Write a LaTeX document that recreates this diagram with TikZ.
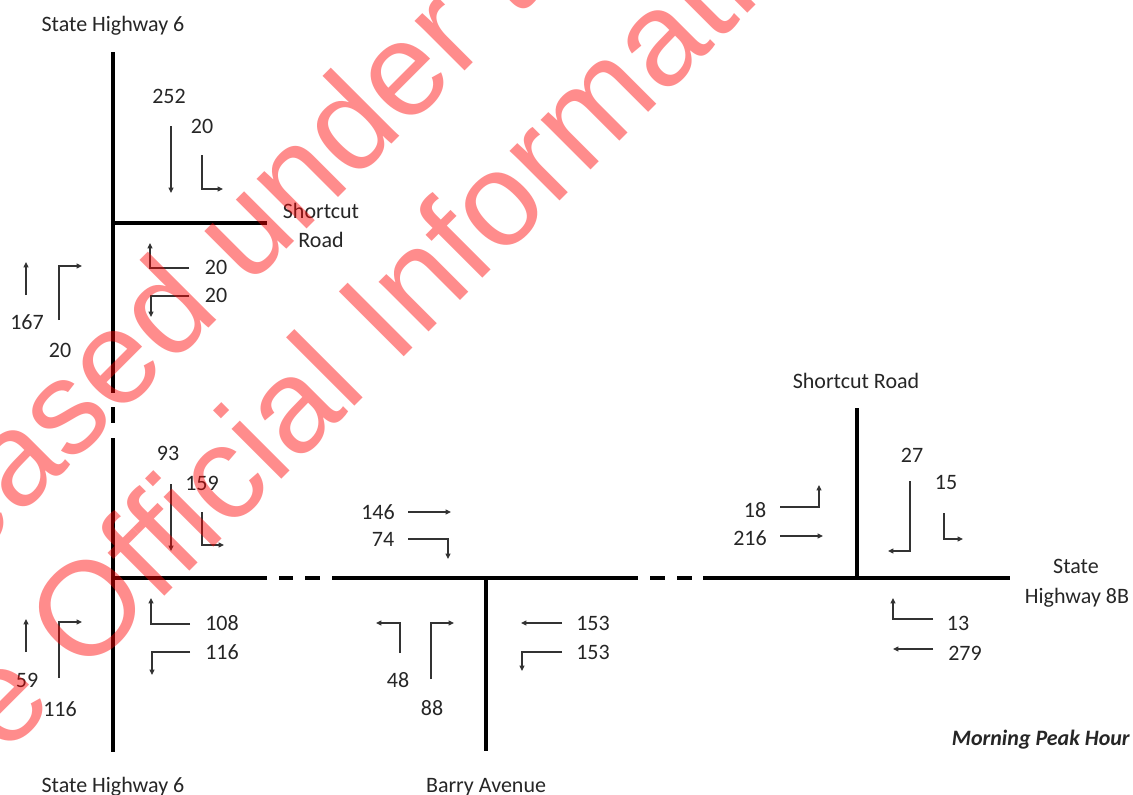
\documentclass[tikz,border=0pt]{standalone}
\usepackage{fontspec}
\setmainfont{Carlito}
\newfontfamily\wmfont{Liberation Sans}
\usetikzlibrary{arrows.meta}

\begin{document}
\begin{tikzpicture}[
  x=0.75pt, y=-0.75pt,
  road/.style={line width=2.4pt},
  mvt/.style={line width=0.8pt, draw=black!80, -{Triangle[length=4pt,width=3.6pt]}},
  vol/.style={font=\fontsize{16.5}{20}\selectfont, text=black!85, inner sep=0pt},
  rname/.style={font=\fontsize{16.5}{21}\selectfont, text=black!85, inner sep=0pt, anchor=base},
  wmark/.style={font=\wmfont\fontsize{100}{120}\selectfont, text=red, opacity=0.45,
    rotate=45, anchor=base west, inner sep=0pt}
]
\useasboundingbox (0,0) rectangle (1133,794);

% junctions and road ends
\coordinate (sh6n) at (113,52);
\coordinate (jtop) at (113,223);
\coordinate (jsw) at (113,578);
\coordinate (sh6s) at (113,752);
\coordinate (scw) at (267,223);
\coordinate (jbarry) at (486,578);
\coordinate (barrys) at (486,751);
\coordinate (jeast) at (857,578);
\coordinate (scn) at (857,408);
\coordinate (sh8e) at (1010,578);

% roads
\draw[road] (sh6n) -- (113,393) (113,407) -- (113,423) (113,438) -- (sh6s);
\draw[road] (jtop) -- (scw);
\draw[road] (jsw) -- (267,578) (332,578) -- (638,578) (703,578) -- (sh8e);
\foreach \a/\b in {279/293, 305/320, 650/665, 677/692}
  \draw[road] (\a,578) -- (\b,578);
\draw[road] (jbarry) -- (barrys);
\draw[road] (jeast) -- (scn);

% road names
\node[rname] (sh6top) at (113,31) {State Highway 6};
\node[rname] (sh6bot) at (113,792) {State Highway 6};
\node[rname] (scleft1) at (321,218) {Shortcut};
\node[rname] (scleft2) at (321,247) {Road};
\node[rname] (barry) at (486,792) {Barry Avenue};
\node[rname] (scright) at (856,388) {Shortcut Road};
\node[rname] (sh8a) at (1076,573) {State};
\node[rname] (sh8b) at (1077,603) {Highway 8B};
\node[rname, anchor=base east, font=\bfseries\itshape\fontsize{16.5}{20}\selectfont]
  (title) at (1130,745) {Morning Peak Hour};

% SH6 / Shortcut Road
\node[vol] (t252) at (169,96) {252};
\node[vol] (t20a) at (202,126) {20};
\node[vol] (t20b) at (216,267) {20};
\node[vol] (t20c) at (216,295) {20};
\node[vol] (t167) at (27,322) {167};
\node[vol] (t20d) at (60,350) {20};
\draw[mvt] (171,126) -- (171,193);
\draw[mvt] (202,155) |- (223,189);
\draw[mvt] (189,268) -| (150,243);
\draw[mvt] (189,296) -| (151,317);
\draw[mvt] (26,295) -- (26,262);
\draw[mvt] (59,320) |- (82,266);

% SH6 / SH8B
\node[vol] (t93) at (168,453) {93};
\node[vol] (t159) at (202,483) {159};
\node[vol] (t108) at (222,623) {108};
\node[vol] (t116a) at (222,652) {116};
\node[vol] (t59) at (27,680) {59};
\node[vol] (t116b) at (60,709) {116};
\draw[mvt] (171,484) -- (171,551);
\draw[mvt] (202,512) |- (224,545);
\draw[mvt] (190,624) -| (151,598);
\draw[mvt] (190,652) -| (152,675);
\draw[mvt] (26,652) -- (26,619);
\draw[mvt] (59,678) |- (82,622);

% SH8B / Barry Avenue
\node[vol] (t146) at (378,512) {146};
\node[vol] (t74) at (383,539) {74};
\node[vol] (t48) at (398,680) {48};
\node[vol] (t88) at (432,708) {88};
\node[vol] (t153a) at (593,623) {153};
\node[vol] (t153b) at (593,652) {153};
\draw[mvt] (408,512) -- (451,512);
\draw[mvt] (408,539) -| (448,559);
\draw[mvt] (400,653) |- (376,623);
\draw[mvt] (431,679) |- (454,623);
\draw[mvt] (562,623) -- (521,623);
\draw[mvt] (562,652) -| (522,671);

% SH8B / Shortcut Road
\node[vol] (t18) at (755,510) {18};
\node[vol] (t216) at (750,538) {216};
\node[vol] (t27) at (912,455) {27};
\node[vol] (t15) at (946,482) {15};
\node[vol] (t13) at (958,623) {13};
\node[vol] (t279) at (965,653) {279};
\draw[mvt] (780,507) -| (819,485);
\draw[mvt] (780,536) -- (823,536);
\draw[mvt] (910,481) |- (888,551);
\draw[mvt] (944,513) |- (963,539);
\draw[mvt] (933,619) -| (893,598);
\draw[mvt] (933,649) -- (893,649);

% watermark
\begin{scope}
  \clip (0,0) rectangle (1133,794);
  \node[wmark] (wm1) at (-176,712) {Released under the};
  \node[wmark] (wm2) at (-74,835) {the Official Information Act};
\end{scope}
\end{tikzpicture}
\end{document}
